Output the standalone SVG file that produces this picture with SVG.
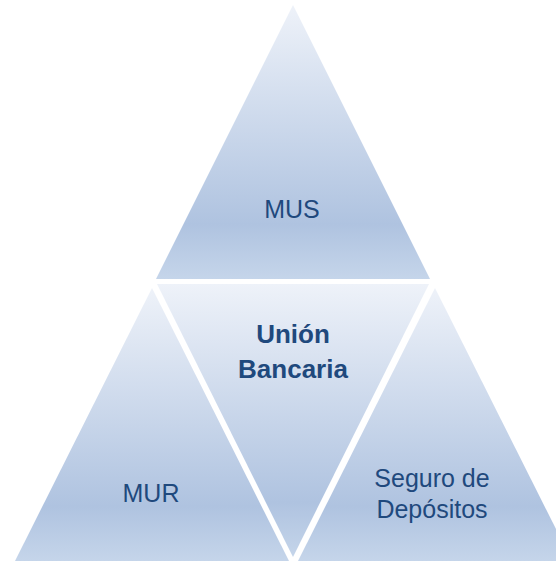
<svg xmlns="http://www.w3.org/2000/svg" width="556" height="561" viewBox="0 0 556 561">
  <style>
    .tri { fill: url(#g); }
    .lbl { font-family: "Liberation Sans", Arial, sans-serif; font-size: 25px; fill: #1f497d; text-anchor: middle; }
    .bold { font-weight: bold; font-size: 26px; }
  </style>
  <defs>
    <linearGradient id="g" x1="0" y1="0" x2="0" y2="1">
      <stop offset="0" stop-color="#eef2f9"/>
      <stop offset="0.8" stop-color="#afc3e0"/>
      <stop offset="1" stop-color="#c5d5ea"/>
    </linearGradient>
  </defs>
  <rect width="556" height="561" fill="#ffffff"/>
  <g id="mus">
    <polygon class="tri" points="293,5 430,279 156,279"/>
    <text class="lbl" x="292" y="218">MUS</text>
  </g>
  <g id="union">
    <polygon class="tri" points="157,284 429,284 293,557"/>
    <text class="lbl bold" x="293" y="343">Unión</text>
    <text class="lbl bold" x="293" y="378">Bancaria</text>
  </g>
  <g id="mur">
    <polygon class="tri" points="152,288 289,561 15,561"/>
    <text class="lbl" x="151" y="502">MUR</text>
  </g>
  <g id="seguro">
    <polygon class="tri" points="435,288 572,561 298,561"/>
    <text class="lbl" x="432" y="487">Seguro de</text>
    <text class="lbl" x="432" y="518">Depósitos</text>
  </g>
  <g id="connectors"/>
</svg>
